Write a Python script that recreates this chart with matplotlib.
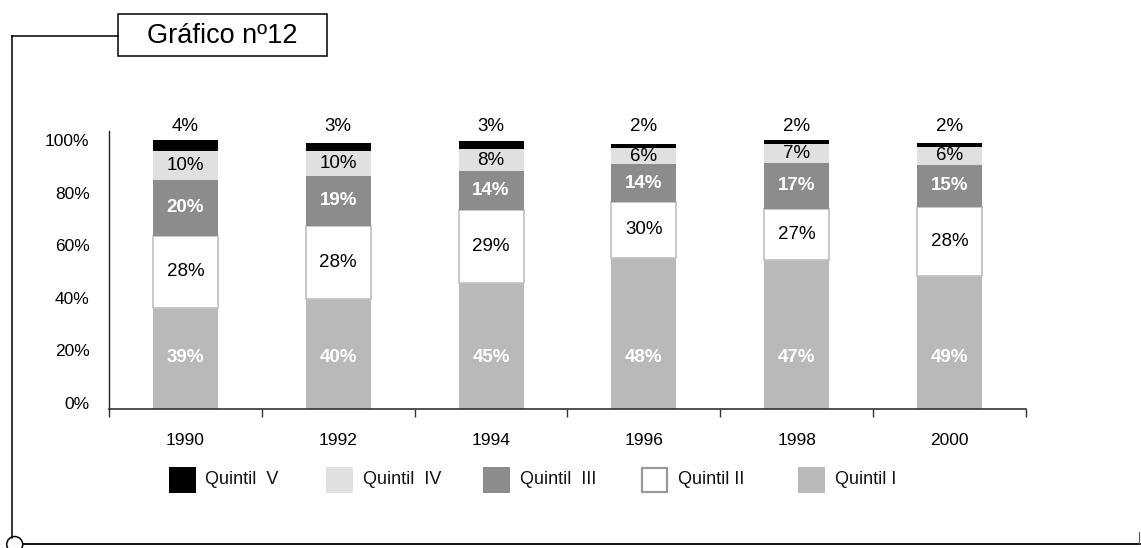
import matplotlib
matplotlib.use("Agg")
import matplotlib.pyplot as plt
from matplotlib.patches import Rectangle, Ellipse
from matplotlib.lines import Line2D
import numpy as np

plt.rcParams['font.family'] = ['Liberation Sans', 'DejaVu Sans']

# ---- data ----
years = ['1990', '1992', '1994', '1996', '1998', '2000']
series_names = ['Quintil  V', 'Quintil  IV', 'Quintil  III', 'Quintil II', 'Quintil I']
# drawn segment heights (%)
quintil_I = [38.4, 41.7, 47.8, 57.5, 56.7, 50.6]
quintil_II = [27.4, 28.0, 27.9, 21.3, 19.4, 26.3]
quintil_III = [21.3, 18.9, 14.8, 14.2, 17.4, 16.0]
quintil_IV = [11.1, 9.6, 8.2, 6.1, 7.1, 6.8]
quintil_V = [4.1, 3.0, 3.2, 1.5, 1.5, 1.4]
# printed labels
label_I = [39, 40, 45, 48, 47, 49]
label_II = [28, 28, 29, 30, 27, 28]
label_III = [20, 19, 14, 14, 17, 15]
label_IV = [10, 10, 8, 6, 7, 6]
label_V = [4, 3, 3, 2, 2, 2]
y_ticks = [0, 20, 40, 60, 80, 100]
title_text = 'Gráfico nº12'

W, H = 1141, 548
fig = plt.figure(figsize=(W / 100, H / 100), dpi=100)

def fx(x):
    return x / W

def fy(y):
    return 1 - y / H

ax = fig.add_axes([fx(109), fy(409), (1026 - 109) / W, (409 - 131) / H])
ax.set_xlim(-0.5, 5.5)
ax.set_ylim(0, 105.7)

x = np.arange(len(years))
bw = 0.425
c_I, c_II, c_III, c_IV, c_V = '#b9b9b9', '#ffffff', '#8c8c8c', '#e0e0e0', '#000000'

q1 = np.array(quintil_I); q2 = np.array(quintil_II); q3 = np.array(quintil_III)
q4 = np.array(quintil_IV); q5 = np.array(quintil_V)

ax.bar(x, q1, bw, color=c_I, linewidth=0, zorder=2)
ax.bar(x, q2, bw, bottom=q1, facecolor=c_II, edgecolor='#c4c4c4', linewidth=1.3, zorder=2)
b3 = q1 + q2
ax.bar(x, q3, bw, bottom=b3, color=c_III, linewidth=0, zorder=3)
b4 = b3 + q3
ax.bar(x, q4, bw, bottom=b4, color=c_IV, linewidth=0, zorder=3)
b5 = b4 + q4
ax.bar(x, q5, bw, bottom=b5, color=c_V, linewidth=0, zorder=3)

fs_lab = 13.5
for i in range(len(years)):
    ax.text(x[i], 19.6, f'{label_I[i]}%', ha='center', va='center', color='white',
            fontsize=fs_lab, fontweight='bold', zorder=5)
    ax.text(x[i], q1[i] + q2[i] / 2, f'{label_II[i]}%', ha='center', va='center',
            color='black', fontsize=fs_lab, zorder=5)
    ax.text(x[i], b3[i] + q3[i] / 2, f'{label_III[i]}%', ha='center', va='center',
            color='white', fontsize=fs_lab, fontweight='bold', zorder=5)
    ax.text(x[i], b4[i] + q4[i] / 2, f'{label_IV[i]}%', ha='center', va='center',
            color='black', fontsize=fs_lab, zorder=5)
    ax.text(x[i], 107.3, f'{label_V[i]}%', ha='center', va='center',
            color='black', fontsize=fs_lab, zorder=5, clip_on=False)

# axes styling
for s in ['top', 'right']:
    ax.spines[s].set_visible(False)
ax.spines['left'].set_color('#222222')
ax.spines['bottom'].set_color('#333333')
ax.spines['left'].set_linewidth(1.0)
ax.spines['bottom'].set_linewidth(1.2)

ax.set_xticks(x)
ax.set_xticklabels(years, fontsize=12.5)
ax.set_xticks(np.arange(-0.5, 6, 1.0), minor=True)
ax.tick_params(axis='x', which='major', length=0, pad=17)
ax.tick_params(axis='x', which='minor', length=6, width=1.0, color='#333333', direction='out')

ax.set_yticks(y_ticks)
ax.set_yticklabels([f'{v}%' for v in y_ticks], fontsize=12.5)
ax.set_yticks([0], minor=True)
ax.tick_params(axis='y', which='major', length=0, pad=14)
ax.tick_params(axis='y', which='minor', length=9, width=1.2, color='#333333', direction='out')
for lbl in ax.get_yticklabels():
    lbl.set_va('baseline')

# ---- legend (manual) ----
leg_colors = [c_V, c_IV, c_III, c_II, c_I]
leg_patch_x = [169, 326, 483.3, 641, 798.3]
leg_text_x = [205, 363.3, 520, 678.3, 835]
for name, col, px, tx in zip(series_names, leg_colors, leg_patch_x, leg_text_x):
    if col == c_II:
        r = Rectangle((fx(px + 1), fy(492.3)), 24.7 / W, 24.7 / H, transform=fig.transFigure,
                      facecolor='white', edgecolor='#9a9a9a', linewidth=1.6)
    else:
        r = Rectangle((fx(px), fy(493.3)), 26.7 / W, 26.7 / H, transform=fig.transFigure,
                      facecolor=col, edgecolor='none')
    fig.add_artist(r)
    fig.text(fx(tx), fy(480), name, ha='left', va='center', fontsize=13, color='#111111')

# ---- frame decorations ----
lw = 1.1
fig.add_artist(Rectangle((fx(118), fy(56)), (327 - 118) / W, (56 - 14.3) / H,
                         transform=fig.transFigure, facecolor='white', edgecolor='black', linewidth=lw))
fig.text(fx(222.5), fy(36), title_text, ha='center', va='center', fontsize=19.5)
fig.add_artist(Line2D([fx(11.7), fx(118)], [fy(35.7), fy(35.7)], transform=fig.transFigure,
                      color='black', linewidth=lw))
fig.add_artist(Line2D([fx(11.7), fx(11.7)], [fy(35.7), fy(538)], transform=fig.transFigure,
                      color='black', linewidth=lw))
fig.add_artist(Line2D([fx(22.5), fx(1141)], [fy(543.5), fy(543.5)], transform=fig.transFigure,
                      color='black', linewidth=1.3))
fig.add_artist(Line2D([fx(1139), fx(1139)], [fy(531.5), fy(543.5)], transform=fig.transFigure,
                      color='#555555', linewidth=0.8))
fig.add_artist(Ellipse((fx(14.7), fy(544.5)), 16 / W, 16 / H, transform=fig.transFigure,
                       facecolor='white', edgecolor='black', linewidth=lw))

fig.savefig('out.png', dpi=100)
